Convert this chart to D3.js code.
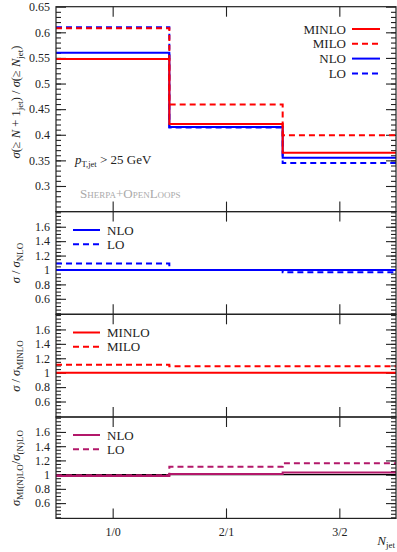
<!DOCTYPE html>
<html>
<head>
<meta charset="utf-8">
<script src="https://cdn.jsdelivr.net/npm/d3@7"></script>
<style>
  body { margin: 0; background: #fff; }
  svg { display: block; }
  svg text { font-family: "Liberation Serif", "DejaVu Serif", serif; }
</style>
</head>
<body>
<svg id="chart" width="397" height="552"></svg>
<script>
// bins and values
const bins = ["1/0", "2/1", "3/2"];
const minlo = [0.548, 0.421, 0.365];
const milo = [0.608, 0.459, 0.399];
const nlo = [0.560, 0.415, 0.355];
const lo = [0.610, 0.414, 0.345];

// ratio panels
const nloRatioNlo = [1.0, 1.0, 1.0];
const loRatioNlo = [1.09, 1.0, 0.97];
const minloRatioMinlo = [1.0, 1.0, 1.0];
const miloRatioMinlo = [1.11, 1.09, 1.09];
const minloRatioNlo = [0.98, 1.01, 1.03];
const miloRatioLo = [0.99, 1.11, 1.16];

const mainTicks = [0.3, 0.35, 0.4, 0.45, 0.5, 0.55, 0.6, 0.65];
const ratioTicks = [0.6, 0.8, 1, 1.2, 1.4, 1.6];

const red = "#ff0000", blue = "#0000ff", plum = "#b3186a";

const svg = d3.select("#chart");
const left = 56, right = 396;

const x = d3.scaleLinear().domain([0, bins.length]).range([left, right]);
const xCenters = bins.map((b, i) => i + 0.5);

const panels = [
  {top: 6.7, bottom: 211.6, domain: [0.25, 0.65], major: mainTicks, minorStep: 0.01,
   series: [
     {v: nlo, c: blue, dash: false},
     {v: lo, c: blue, dash: true},
     {v: minlo, c: red, dash: false},
     {v: milo, c: red, dash: true}
   ]},
  {top: 211.6, bottom: 314.3, domain: [0.385, 1.81], major: ratioTicks, minorStep: 0.05,
   series: [
     {v: nloRatioNlo, c: blue, dash: false},
     {v: loRatioNlo, c: blue, dash: true}
   ]},
  {top: 314.3, bottom: 417, domain: [0.385, 1.81], major: ratioTicks, minorStep: 0.05,
   series: [
     {v: minloRatioMinlo, c: red, dash: false},
     {v: miloRatioMinlo, c: red, dash: true}
   ]},
  {top: 417, bottom: 518.4, domain: [0.385, 1.81], major: ratioTicks, minorStep: 0.05, refLine: true,
   series: [
     {v: minloRatioNlo, c: plum, dash: false},
     {v: miloRatioLo, c: plum, dash: true}
   ]}
];

// drop d3's default sans-serif on axis groups
const plain = a => a.attr("font-family", null).attr("font-size", null).select(".domain").remove();

panels.forEach(p => {
  const y = d3.scaleLinear().domain(p.domain).range([p.bottom, p.top]);
  p.y = y;
  const g = svg.append("g");

  const minor = d3.range(Math.ceil(p.domain[0] / p.minorStep) * p.minorStep, p.domain[1] + 1e-9, p.minorStep)
    .filter(v => v > p.domain[0] + 1e-9 && v < p.domain[1] - 1e-9);

  // minor ticks left and right
  g.append("g").attr("transform", `translate(${left},0)`)
    .call(d3.axisLeft(y).tickValues(minor).tickSize(-5).tickFormat(""))
    .call(plain);
  g.append("g").attr("transform", `translate(${right},0)`)
    .call(d3.axisRight(y).tickValues(minor).tickSize(-5).tickFormat(""))
    .call(plain);

  // major ticks with labels
  g.append("g").attr("transform", `translate(${left},0)`)
    .call(d3.axisLeft(y).tickValues(p.major).tickSize(-10).tickPadding(6).tickFormat(d3.format("")))
    .call(plain)
    .call(a => a.selectAll("text").style("font-size", "12px").attr("fill", "#222"));
  g.append("g").attr("transform", `translate(${right},0)`)
    .call(d3.axisRight(y).tickValues(p.major).tickSize(-10).tickFormat(""))
    .call(plain);

  // x ticks at bin centres, top and bottom
  g.append("g").attr("transform", `translate(0,${p.bottom})`)
    .call(d3.axisBottom(x).tickValues(xCenters).tickSize(-10).tickFormat(""))
    .call(plain);
  g.append("g").attr("transform", `translate(0,${p.top})`)
    .call(d3.axisTop(x).tickValues(xCenters).tickSize(-10).tickFormat(""))
    .call(plain);

  g.selectAll(".tick line").attr("stroke", "#222").attr("stroke-width", 1.1);

  if (p.refLine) {
    g.append("line")
      .attr("x1", left).attr("x2", right)
      .attr("y1", y(1)).attr("y2", y(1))
      .attr("stroke", "#000").attr("stroke-width", 1.2);
  }

  const line = d3.line()
    .x(d => x(d[0]))
    .y(d => y(d[1]))
    .curve(d3.curveStepAfter);

  p.series.forEach(s => {
    const pts = s.v.map((v, i) => [i, v]);
    pts.push([s.v.length, s.v[s.v.length - 1]]);
    g.append("path")
      .attr("d", line(pts))
      .attr("fill", "none")
      .attr("stroke", s.c)
      .attr("stroke-width", 2)
      .attr("stroke-dasharray", s.dash ? "6,4" : null);
  });

  // frame
  g.append("rect")
    .attr("x", left).attr("y", p.top)
    .attr("width", right - left).attr("height", p.bottom - p.top)
    .attr("fill", "none").attr("stroke", "#222").attr("stroke-width", 1.2);
});

// x tick labels
svg.append("g").attr("transform", `translate(0,${panels[3].bottom})`)
  .call(d3.axisBottom(x).tickValues(xCenters).tickSize(0).tickPadding(9).tickFormat((d, i) => bins[i]))
  .call(plain)
  .call(a => a.selectAll("text").style("font-size", "12px").attr("fill", "#222"));

// x axis title
const xt = svg.append("text").attr("x", 395).attr("y", 545).attr("text-anchor", "end")
  .attr("font-size", 13).attr("fill", "#222");
xt.append("tspan").attr("font-style", "italic").text("N");
xt.append("tspan").attr("font-size", 9).attr("dy", 3).text("jet");

// y axis titles
function yTitle(cx, cy, parts) {
  const t = svg.append("text")
    .attr("transform", `translate(${cx},${cy}) rotate(-90)`)
    .attr("text-anchor", "middle").attr("font-size", 12.5).attr("fill", "#222");
  parts.forEach(pt => {
    const ts = t.append("tspan").text(pt.t);
    if (pt.i) ts.attr("font-style", "italic");
    if (pt.sub) ts.attr("font-size", 9).attr("dy", 3);
    if (pt.up) ts.attr("dy", -3);
  });
}
yTitle(20, 102, [
  {t: "σ", i: true}, {t: "(≥ "}, {t: "N", i: true}, {t: " + 1"}, {t: "jet", sub: true},
  {t: ") / ", up: true}, {t: "σ", i: true}, {t: "(≥ "}, {t: "N", i: true}, {t: "jet", sub: true}, {t: ")", up: true}
]);
yTitle(20, 263, [{t: "σ", i: true}, {t: " / "}, {t: "σ", i: true}, {t: "NLO", sub: true}]);
yTitle(20, 366, [{t: "σ", i: true}, {t: " / "}, {t: "σ", i: true}, {t: "MINLO", sub: true}]);
yTitle(20, 468, [{t: "σ", i: true}, {t: "MI(N)LO", sub: true}, {t: "/", up: true}, {t: "σ", i: true}, {t: "(N)LO", sub: true}]);

// main legend (right aligned)
const mainLegend = [
  {name: "MINLO", c: red, dash: false},
  {name: "MILO", c: red, dash: true},
  {name: "NLO", c: blue, dash: false},
  {name: "LO", c: blue, dash: true}
];
mainLegend.forEach((d, i) => {
  const yy = 29 + i * 14.8;
  svg.append("text").attr("x", 346).attr("y", yy + 4.5).attr("text-anchor", "end")
    .attr("font-size", 13).attr("fill", "#222").text(d.name);
  svg.append("line").attr("x1", 352).attr("x2", 380).attr("y1", yy).attr("y2", yy)
    .attr("stroke", d.c).attr("stroke-width", 2).attr("stroke-dasharray", d.dash ? "6,4" : null);
});

// ratio legends
const ratioLegends = [
  {panel: 1, items: [{name: "NLO", c: blue, dash: false}, {name: "LO", c: blue, dash: true}], y0: 230},
  {panel: 2, items: [{name: "MINLO", c: red, dash: false}, {name: "MILO", c: red, dash: true}], y0: 332.5},
  {panel: 3, items: [{name: "NLO", c: plum, dash: false}, {name: "LO", c: plum, dash: true}], y0: 435}
];
ratioLegends.forEach(L => {
  L.items.forEach((d, i) => {
    const yy = L.y0 + i * 14.3;
    svg.append("line").attr("x1", 73).attr("x2", 100).attr("y1", yy).attr("y2", yy)
      .attr("stroke", d.c).attr("stroke-width", 2).attr("stroke-dasharray", d.dash ? "6,4" : null);
    svg.append("text").attr("x", 107).attr("y", yy + 4.5)
      .attr("font-size", 13).attr("fill", "#222").text(d.name);
  });
});

// annotations
const cut = svg.append("text").attr("x", 75).attr("y", 164).attr("font-size", 13).attr("fill", "#222");
cut.append("tspan").attr("font-style", "italic").text("p");
cut.append("tspan").attr("font-size", 8.5).attr("dy", 3).text("T,jet");
cut.append("tspan").attr("dy", -3).text(" > 25 GeV");

svg.append("text").attr("x", 80).attr("y", 198).attr("font-size", 13)
  .attr("font-variant", "small-caps").attr("fill", "#aaaaaa").text("Sherpa+OpenLoops");
</script>
</body>
</html>
